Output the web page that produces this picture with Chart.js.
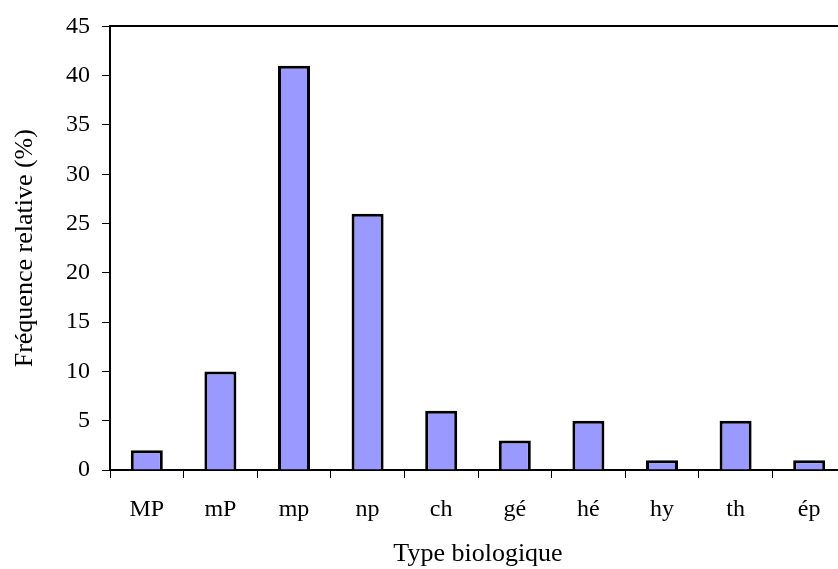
<!DOCTYPE html>
<html lang="fr">
<head>
    <meta charset="UTF-8">
    <title>Type biologique</title>
    <script src="https://cdn.jsdelivr.net/npm/chart.js"></script>
    <style>
        body, html {
            margin: 0;
            padding: 0;
            background: white;
            overflow: hidden;
        }

        /* canvas is a little wider than the window: the plot frame runs off the right edge */
        .chart-container {
            position: relative;
            width: 860px;
            height: 569px;
        }
    </style>
</head>
<body>
<div class="chart-container">
    <canvas id="typeChart"></canvas>
</div>

<script>
    // Data
    const categories = ['MP', 'mP', 'mp', 'np', 'ch', 'gé', 'hé', 'hy', 'th', 'ép'];
    const frequencies = [2, 10, 41, 26, 6, 3, 5, 1, 5, 1];
    const yTicks = [0, 5, 10, 15, 20, 25, 30, 35, 40, 45];

    const serif = "'Liberation Serif', 'Times New Roman', serif";

    function drawChart() {
        const ctx = document.getElementById('typeChart').getContext('2d');
        return new Chart(ctx, {
            type: 'bar',
            data: {
                labels: categories,
                datasets: [{
                    label: 'Fréquence relative (%)',
                    data: frequencies,
                    backgroundColor: '#9999ff',
                    borderColor: '#000000',
                    borderWidth: 3,
                    barPercentage: 1,
                    categoryPercentage: 0.435
                }]
            },
            options: {
                responsive: true,
                maintainAspectRatio: false,
                animation: false,
                layout: {
                    padding: { top: 16, right: 14, bottom: -1, left: 0 }
                },
                scales: {
                    x: {
                        grid: {
                            offset: true,
                            drawOnChartArea: false,
                            drawTicks: true,
                            tickLength: 8,
                            color: '#000000',
                            lineWidth: 1
                        },
                        border: { display: true, color: '#000000', width: 2 },
                        ticks: {
                            color: '#000000',
                            font: { family: serif, size: 24 },
                            padding: 17,
                            maxRotation: 0
                        },
                        title: {
                            display: true,
                            text: 'Type biologique',
                            color: '#000000',
                            font: { family: serif, size: 26 },
                            padding: { top: -2, bottom: 0 }
                        }
                    },
                    // only used to draw the top edge of the plot frame
                    xTop: {
                        position: 'top',
                        grid: { display: false },
                        border: { display: true, color: '#000000', width: 2 },
                        ticks: { display: false }
                    },
                    y: {
                        min: 0,
                        max: 45,
                        afterBuildTicks: function (scale) {
                            scale.ticks = yTicks.map(v => ({ value: v }));
                        },
                        afterFit: function (scale) {
                            scale.width = 110;
                        },
                        grid: {
                            drawOnChartArea: false,
                            drawTicks: true,
                            tickLength: 8,
                            color: '#000000',
                            lineWidth: 1
                        },
                        border: { display: true, color: '#000000', width: 2 },
                        ticks: {
                            color: '#000000',
                            font: { family: serif, size: 24 },
                            padding: 12
                        },
                        title: {
                            display: true,
                            text: 'Fréquence relative (%)',
                            color: '#000000',
                            font: { family: serif, size: 26 },
                            padding: { top: 10, bottom: 6 }
                        }
                    }
                },
                plugins: {
                    legend: { display: false },
                    tooltip: { enabled: false }
                }
            }
        });
    }

    // make sure the serif font is ready before the canvas is drawn
    Promise.all([
        document.fonts.load("24px 'Liberation Serif'"),
        document.fonts.load("24px 'Liberation Serif'", 'éç%')
    ]).then(drawChart, drawChart);
</script>
</body>
</html>
